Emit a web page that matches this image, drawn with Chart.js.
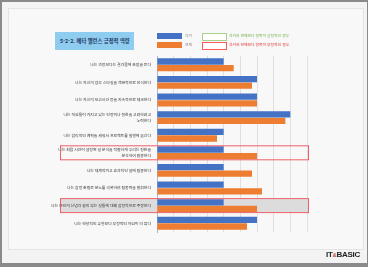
<!DOCTYPE html>
<html lang="ko">
<head>
    <meta charset="UTF-8">
    <title>5-2-2. 메타 밸런스 긍정적 역량</title>
    <script src="https://cdn.jsdelivr.net/npm/chart.js"></script>
    <style>
        html, body {
            margin: 0;
            padding: 0;
        }
        body {
            width: 368px;
            height: 267px;
            background: #8a8a8a;
            font-family: "Noto Sans CJK KR", "Noto Sans", sans-serif;
            overflow: hidden;
            position: relative;
        }
        .slide {
            position: absolute;
            left: 2px; top: 2px; right: 1px; bottom: 4px;
            background: #f3f3f3;
        }
        .panel {
            position: absolute;
            left: 8px; top: 8px; width: 354px; height: 240px;
            background: #f8f8f8;
            border: 1px solid #e4e4e4;
        }
        .chart-container {
            position: absolute;
            left: 0; top: 0;
            width: 368px;
            height: 267px;
        }
        .title-box {
            position: absolute;
            left: 55px; top: 32px;
            width: 79px; height: 18px;
            background: #8fcdf0;
            color: #1f3864;
            font-size: 5.3px;
            font-weight: bold;
            line-height: 18px;
            text-indent: 5px;
            white-space: nowrap;
        }
        .lg {
            position: absolute;
            font-size: 3.8px;
            white-space: nowrap;
            line-height: 6px;
        }
        .sw {
            position: absolute;
            width: 25px;
        }
        .logo {
            position: absolute;
            left: 326px; top: 250px;
            font-family: "Liberation Sans", sans-serif;
            font-weight: bold;
            font-size: 8px;
            letter-spacing: -0.3px;
            color: #222;
        }
        .logo span { color: #c0504d; font-size: 6px; }
    </style>
</head>
<body>
    <div class="slide"></div>
    <div class="panel"></div>
    <div class="chart-container">
        <canvas id="barChart"></canvas>
    </div>
    <div class="title-box">5-2-2. 메타 밸런스 긍정적 역량</div>

    <div class="sw" style="left:157px; top:33px; height:6px; background:#4472c4;"></div>
    <div class="lg" style="left:185px; top:33px; color:#888;">과거</div>
    <div class="sw" style="left:157px; top:42px; height:6px; background:#ed7d31;"></div>
    <div class="lg" style="left:185px; top:42px; color:#888;">현재</div>

    <div class="sw" style="left:202px; top:33px; height:6px; border:1px solid #a9d18e; width:23px; background:#fff;"></div>
    <div class="lg" style="left:229px; top:33px; color:#70ad47;">과거와 현재보다 항목이 긍정적인 경우</div>
    <div class="sw" style="left:202px; top:42px; height:6px; border:1px solid #ff5a5a; width:23px; background:#fff;"></div>
    <div class="lg" style="left:229px; top:42px; color:#e03030;">과거와 현재보다 항목이 부정적인 경우</div>

    <div class="logo">IT<span>&amp;</span>BASIC</div>

    <script>
        // categories (top to bottom)
        const labels = [
            '나는 과정보다는 결과물에 초점을 둔다',
            '나는 자신의 업무 스타일을 객관적으로 인식한다',
            '나는 자신의 보고시간 등을 지속적으로 체크한다',
            ['나는 직원들이 가지고 있는 인정이나 칭찬을 고려하려고', '노력한다'],
            '나는 합리적인 계획을 세워서 프로젝트를 실행에 옮긴다',
            ['나는 처음 시간이 설정된 일 분석을 적절하게 우리는 칭찬을', '분석하여 집중한다'],
            '나는 체계적이고 효과적인 일에 집중한다',
            '나는 감정 조절로 분노를 극복하여 집중력을 발휘한다',
            '나는 본인의 신념과 같지 않는 것들에 대해 감정적으로 주장한다',
            '나는 현상적인 유형보다 부정적인 자원이 더 많다'
        ];
        const pastValues = [2, 3, 3, 4, 2, 2, 2, 2, 2, 3];
        const nowValues = [2.3, 2.85, 3, 3.85, 1.8, 3, 2.85, 3.15, 3, 2.7];
        // rows marked with a red box (index, filled?)
        const marked = [[5, false], [8, true]];

        const markBoxes = {
            id: 'markBoxes',
            beforeDraw(chart) {
                const ctx = chart.ctx;
                const y = chart.scales.y;
                marked.forEach(([i, filled]) => {
                    if (!filled) return;
                    const cy = y.getPixelForValue(i);
                    ctx.save();
                    ctx.fillStyle = '#dcdcdc';
                    ctx.fillRect(60, cy - 7, 248, 14);
                    ctx.restore();
                });
            },
            afterDraw(chart) {
                const ctx = chart.ctx;
                const y = chart.scales.y;
                marked.forEach(([i]) => {
                    const cy = y.getPixelForValue(i);
                    ctx.save();
                    ctx.strokeStyle = '#f0606a';
                    ctx.lineWidth = 1;
                    ctx.strokeRect(60.5, cy - 7, 248, 14);
                    ctx.restore();
                });
            }
        };

        const ctx = document.getElementById('barChart').getContext('2d');
        new Chart(ctx, {
            type: 'bar',
            data: {
                labels: labels,
                datasets: [{
                    label: '과거',
                    data: pastValues,
                    backgroundColor: '#4472c4',
                    barPercentage: 0.95,
                    categoryPercentage: 0.75
                }, {
                    label: '현재',
                    data: nowValues,
                    backgroundColor: '#ed7d31',
                    barPercentage: 0.95,
                    categoryPercentage: 0.75
                }]
            },
            options: {
                indexAxis: 'y',
                responsive: true,
                maintainAspectRatio: false,
                animation: false,
                layout: {
                    padding: { left: 0, top: 56, right: 61, bottom: 35 }
                },
                plugins: {
                    legend: { display: false },
                    tooltip: { enabled: false }
                },
                scales: {
                    x: {
                        min: 0,
                        max: 4.5,
                        ticks: { display: false, stepSize: 0.5 },
                        grid: { color: '#d9d9d9', lineWidth: 0.8, drawTicks: false },
                        border: { display: false }
                    },
                    y: {
                        afterFit(scale) { scale.width = 157; },
                        grid: { display: false, drawTicks: false },
                        border: { color: '#aab8cf' },
                        ticks: {
                            color: '#333',
                            padding: 6,
                            autoSkip: false,
                            font: { family: '"Noto Sans CJK KR", sans-serif', size: 3.9, lineHeight: 1.6 }
                        }
                    }
                }
            },
            plugins: [markBoxes]
        });
    </script>
</body>
</html>
